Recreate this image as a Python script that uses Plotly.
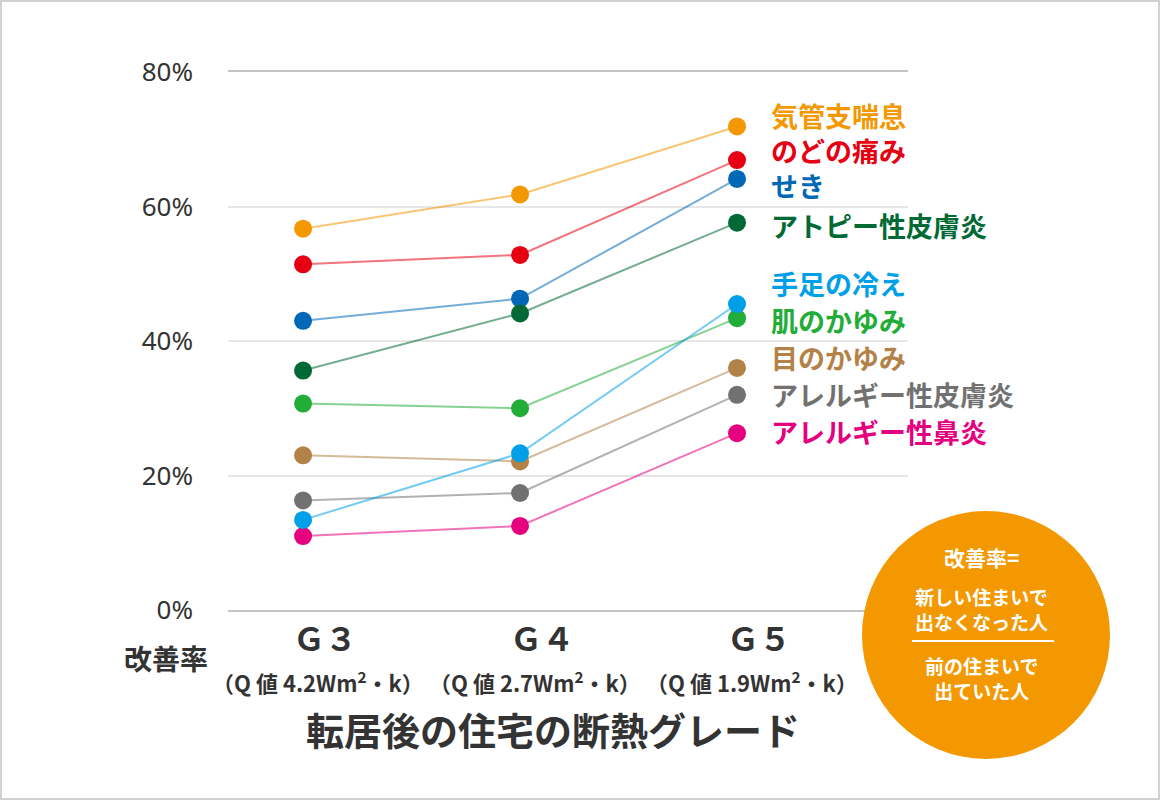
import plotly.graph_objects as go

# ---- data ----
categories = ["G3", "G4", "G5"]
category_labels = ["Ｇ３", "Ｇ４", "Ｇ５"]
category_sublabels = ["（Q 値 4.2Wm<sup>2</sup>・k）", "（Q 値 2.7Wm<sup>2</sup>・k）", "（Q 値 1.9Wm<sup>2</sup>・k）"]

series_names = ["気管支喘息", "のどの痛み", "せき", "アトピー性皮膚炎", "肌のかゆみ",
                "目のかゆみ", "アレルギー性皮膚炎", "アレルギー性鼻炎", "手足の冷え"]
kikanshi = [56.7, 61.8, 71.9]
nodo = [51.4, 52.8, 66.9]
seki = [43.0, 46.3, 64.1]
atopy = [35.6, 44.1, 57.6]
hada = [30.7, 30.0, 43.4]
me = [23.0, 22.1, 36.0]
allergy_hifu = [16.3, 17.4, 32.0]
allergy_bien = [11.0, 12.5, 26.3]
teashi = [13.4, 23.3, 45.5]
series_values = [kikanshi, nodo, seki, atopy, hada, me, allergy_hifu, allergy_bien, teashi]

colors = ["#F39800", "#E60012", "#0068B7", "#006934", "#22AC38",
          "#B28247", "#727171", "#E4007F", "#00A0E9"]

# right-side label blocks: (indices of series, y position in % of the block centre)
label_blocks = [([0, 1, 2], 68.3), ([3], 57.2), ([8], 48.6), ([4], 43.1),
                ([5], 37.6), ([6], 32.1), ([7], 26.5)]

y_ticks = [0, 20, 40, 60, 80]
y_ticktext = ["0%", "20%", "40%", "60%", "80%"]

circle_title = "改善率="
circle_numerator = "新しい住まいで<br>出なくなった人"
circle_denominator = "前の住まいで<br>出ていた人"


def rgba(hexc, a):
    h = hexc.lstrip("#")
    r, g, b = int(h[0:2], 16), int(h[2:4], 16), int(h[4:6], 16)
    return f"rgba({r},{g},{b},{a})"


JP = "Noto Sans CJK JP"

fig = go.Figure()
for name, vals, col in zip(series_names, series_values, colors):
    fig.add_trace(go.Scatter(
        x=categories, y=vals, mode="lines+markers", name=name,
        line=dict(color=rgba(col, 0.55), width=2),
        marker=dict(color=col, size=18),
        showlegend=False, cliponaxis=False,
    ))

# plot area in pixels
L, R, T, B = 228, 908, 72, 610
W, H = R - L, B - T


def px(x):
    return (x - L) / W


def py(y):
    return (B - y) / H


annotations = []
# right-side series labels
for idxs, ly in label_blocks:
    text = "<br>".join(f"<span style='color:{colors[i]}'>{series_names[i]}</span>" for i in idxs)
    annotations.append(dict(
        x=px(769), xref="paper", y=ly, yref="y", text=text, showarrow=False,
        xanchor="left", yanchor="middle", align="left",
        font=dict(family=JP, size=27, color=colors[idxs[0]], weight="bold"),
    ))

# category labels
for c, lab, sub in zip(categories, category_labels, category_sublabels):
    annotations.append(dict(
        x=c, xref="x", y=py(637), yref="paper", text=lab, showarrow=False,
        xanchor="center", yanchor="middle", xshift=22,
        font=dict(family=JP, size=32, color="#333333", weight="bold"),
    ))
    annotations.append(dict(
        x=c, xref="x", y=py(681), yref="paper", text=sub, showarrow=False,
        xanchor="center", yanchor="middle", xshift=15,
        font=dict(family=JP, size=22, color="#333333", weight="bold"),
    ))

annotations.append(dict(
    x=px(166), xref="paper", y=py(658), yref="paper", text="改善率", showarrow=False,
    xanchor="center", yanchor="middle",
    font=dict(family=JP, size=28, color="#333333", weight="bold"),
))
annotations.append(dict(
    x=px(553), xref="paper", y=py(728), yref="paper", text="転居後の住宅の断熱グレード",
    showarrow=False, xanchor="center", yanchor="middle",
    font=dict(family=JP, size=38, color="#333333", weight="bold"),
))

# circle text
for t, yy, s in [(circle_title, 557, 21), (circle_numerator, 609, 19), (circle_denominator, 678, 19)]:
    annotations.append(dict(
        x=px(981), xref="paper", y=py(yy), yref="paper", text=t, showarrow=False,
        xanchor="center", yanchor="middle",
        font=dict(family=JP, size=s, color="white", weight="bold"),
    ))

shapes = [
    dict(type="circle", xref="paper", yref="paper",
         x0=px(862), x1=px(1110), y0=py(759), y1=py(511),
         fillcolor="#F39800", line=dict(width=0), layer="above"),
    dict(type="line", xref="paper", yref="paper",
         x0=px(912), x1=px(1054), y0=py(641), y1=py(641),
         line=dict(color="white", width=2), layer="above"),
    dict(type="rect", xref="paper", yref="paper",
         x0=px(1), x1=px(1159), y0=py(799), y1=py(1),
         line=dict(color="#d2d2d2", width=2), fillcolor="rgba(0,0,0,0)"),
]

fig.update_layout(
    width=1160, height=800,
    margin=dict(l=L, r=1160 - R, t=T, b=800 - B),
    paper_bgcolor="white", plot_bgcolor="white",
    xaxis=dict(type="category", range=[-0.346, 2.788], showticklabels=False,
               showgrid=False, zeroline=False, showline=True, mirror=True,
               linecolor="#c4c4c4", linewidth=2, ticks=""),
    yaxis=dict(range=[0, 80], tickvals=y_ticks, ticktext=y_ticktext,
               showgrid=True, gridcolor="#e6e6e6", gridwidth=2, zeroline=False,
               showline=False, ticks="", ticklabelstandoff=34,
               tickfont=dict(family="Noto Sans", size=26, color="#333333")),
    annotations=annotations, shapes=shapes,
)

fig.write_html("out.html", config={"displayModeBar": False},
               post_script="document.body.style.margin='0';document.body.style.padding='0';")
